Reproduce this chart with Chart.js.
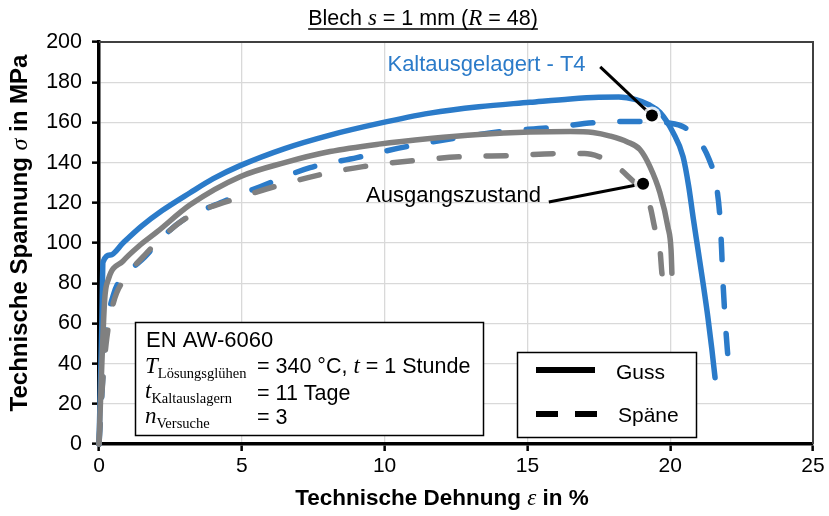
<!DOCTYPE html>
<html><head><meta charset="utf-8">
<script src="https://cdn.jsdelivr.net/npm/chart.js@4/dist/chart.umd.min.js"></script>
<style>html,body{margin:0;padding:0;background:#fff;}canvas{display:block;}</style>
</head><body>
<canvas id="c" width="829" height="516"></canvas>
<script>
// ---- data (strain in %, stress in MPa) ----
const t4GussX = [0, 0.05, 0.1, 0.14, 0.4, 0.84, 1.5, 2.2, 3.19, 4.0, 4.94, 6.5, 8.09, 9.8, 11.59, 13.3, 15.09, 16.5, 17.5, 18.2, 18.8, 19.25, 19.64, 20.1, 20.45, 20.65, 20.8, 20.97, 21.15, 21.32, 21.46, 21.57];
const t4GussY = [0, 30, 60, 90.5, 94, 100, 108.5, 116, 125, 132, 138.5, 147, 153.7, 159.5, 164.6, 167.8, 170, 171.7, 172.5, 172.6, 171.3, 168.8, 165, 155, 143, 128, 113, 97, 80, 63, 47, 33];

const t4SpaeneX = [0, 0.1, 0.2, 0.5, 1.0, 1.6, 2.3, 3.0, 4.34, 5.64, 7.39, 9.03, 10.78, 12.4, 14.04, 15.8, 17.44, 19.05, 19.9, 20.5, 21.0, 21.35, 21.6, 21.74, 21.8, 21.85, 21.92, 22.0, 22.1];
const t4SpaeneY = [0, 25, 50, 74, 85, 93, 104, 112, 120.5, 128, 137.5, 142.5, 148, 152, 155.4, 157.4, 160, 160.5, 159.8, 157.5, 151, 142, 130, 113, 97, 80, 63, 47, 32];

const ausGussX = [0, 0.1, 0.2, 0.32, 0.84, 1.4, 2.03, 3.19, 4.94, 6.5, 8.09, 9.8, 11.59, 13.3, 15.09, 16.5, 17.3, 17.9, 18.5, 18.94, 19.29, 19.64, 19.92, 20.03, 20.06];
const ausGussY = [0, 40, 72, 81.6, 91, 98.5, 105.5, 119, 133, 140, 145.5, 149.2, 152, 154, 155.2, 155.5, 155, 153.2, 150.3, 146.5, 138, 125, 108, 96.6, 85];

const ausSpaeneX = [0, 0.1, 0.25, 0.5, 1.0, 1.6, 2.3, 3.08, 5.0, 7.74, 9.24, 11.0, 12.75, 14.39, 16.14, 17.0, 17.5, 18.0, 18.5, 19.05, 19.3, 19.45, 19.64, 19.71, 19.82];
const ausSpaeneY = [0, 25, 50, 70, 84, 94, 104, 112.6, 123, 134, 138, 141, 143, 143.5, 144.5, 144.5, 143, 139.5, 133.5, 125, 118, 108, 97, 85, 75];

const xTicks = [0, 5, 10, 15, 20, 25];
const yTicks = [0, 20, 40, 60, 80, 100, 120, 140, 160, 180, 200];

// annotation anchors (data coordinates)
const t4LabelAt = [10.1, 185.5];
const t4LineFrom = [17.55, 187.6];
const t4Dot = [19.36, 163.4];
const ausLabelAt = [9.35, 120.4];
const ausLineFrom = [15.75, 120.4];
const ausDot = [19.05, 129.5];

const BLUE = '#2b7bc9';
const GRAY = '#808080';

function pts(xs, ys){ return xs.map((x,i)=>({x:x, y:ys[i]})); }

function runs(ctx, x, y, parts, align){
  let w = 0;
  parts.forEach(p=>{ ctx.font = p.f; w += ctx.measureText(p.t).width; });
  let cx = align === 'center' ? x - w/2 : x;
  parts.forEach(p=>{ ctx.font = p.f; ctx.fillText(p.t, cx, y + (p.dy||0)); cx += ctx.measureText(p.t).width; });
  return w;
}

const SANS = '"Liberation Sans", Arial, sans-serif';
const SERIF = '"Liberation Serif", "Times New Roman", serif';

const extras = {
  id: 'extras',
  afterDraw(chart){
    const ctx = chart.ctx, a = chart.chartArea;
    const xs = chart.scales.x, ys = chart.scales.y;
    const px = v => xs.getPixelForValue(v), py = v => ys.getPixelForValue(v);
    ctx.save();
    // top/right frame
    ctx.strokeStyle = '#404040'; ctx.lineWidth = 2;
    ctx.beginPath(); ctx.moveTo(a.left, a.top); ctx.lineTo(a.right, a.top); ctx.lineTo(a.right, a.bottom); ctx.stroke();
    ctx.fillStyle = '#000'; ctx.textBaseline = 'alphabetic';
    // title
    const tw = runs(ctx, 423, 25, [
      {t:'Blech ', f:'21.5px '+SANS}, {t:'s', f:'italic 23px '+SERIF}, {t:' = 1 mm (', f:'21.5px '+SANS},
      {t:'R', f:'italic 23px '+SERIF}, {t:' = 48)', f:'21.5px '+SANS}], 'center');
    ctx.lineWidth = 1.5; ctx.strokeStyle = '#000';
    ctx.beginPath(); ctx.moveTo(423 - tw/2, 29); ctx.lineTo(423 + tw/2, 29); ctx.stroke();
    // x axis title
    runs(ctx, 442, 505, [
      {t:'Technische Dehnung ', f:'bold 22.5px '+SANS}, {t:'ε', f:'italic 23px '+SERIF}, {t:' in %', f:'bold 22.5px '+SANS}], 'center');
    // y axis title
    ctx.save(); ctx.translate(27, 233); ctx.rotate(-Math.PI/2);
    runs(ctx, 0, 0, [
      {t:'Technische Spannung ', f:'bold 24px '+SANS}, {t:'σ', f:'italic 24px '+SERIF}, {t:' in MPa', f:'bold 24px '+SANS}], 'center');
    ctx.restore();
    // annotations
    ctx.lineWidth = 3; ctx.strokeStyle = '#000';
    ctx.beginPath(); ctx.moveTo(px(t4LineFrom[0]), py(t4LineFrom[1])); ctx.lineTo(px(t4Dot[0]), py(t4Dot[1])); ctx.stroke();
    ctx.beginPath(); ctx.moveTo(px(ausLineFrom[0]), py(ausLineFrom[1])); ctx.lineTo(px(ausDot[0]), py(ausDot[1])); ctx.stroke();
    [t4Dot, ausDot].forEach(d=>{
      ctx.fillStyle = 'rgba(255,255,255,0.85)'; ctx.beginPath(); ctx.arc(px(d[0]), py(d[1]), 9, 0, Math.PI*2); ctx.fill();
      ctx.fillStyle = '#000'; ctx.beginPath(); ctx.arc(px(d[0]), py(d[1]), 6, 0, Math.PI*2); ctx.fill();
    });
    ctx.fillStyle = BLUE; ctx.font = '22px '+SANS;
    ctx.fillText('Kaltausgelagert - T4', px(t4LabelAt[0]), py(t4LabelAt[1]));
    ctx.fillStyle = '#000';
    ctx.fillText('Ausgangszustand', px(ausLabelAt[0]), py(ausLabelAt[1]));
    // info box
    ctx.fillStyle = '#fff'; ctx.fillRect(135, 322, 348, 113);
    ctx.lineWidth = 1.5; ctx.strokeStyle = '#000'; ctx.strokeRect(135.5, 322.5, 348, 113);
    ctx.fillStyle = '#000';
    runs(ctx, 146, 347, [{t:'EN AW-6060', f:'22px '+SANS}]);
    runs(ctx, 145, 373, [{t:'T', f:'italic 23px '+SERIF}, {t:'Lösungsglühen', f:'14.5px '+SERIF, dy:5}]);
    runs(ctx, 257, 373, [{t:'= 340 °C, ', f:'21.5px '+SANS}, {t:'t', f:'italic 23px '+SERIF}, {t:' = 1 Stunde', f:'21.5px '+SANS}]);
    runs(ctx, 145, 398, [{t:'t', f:'italic 23px '+SERIF}, {t:'Kaltauslagern', f:'14.5px '+SERIF, dy:5}]);
    runs(ctx, 257, 400, [{t:'= 11 Tage', f:'21.5px '+SANS}]);
    runs(ctx, 145, 423, [{t:'n', f:'italic 23px '+SERIF}, {t:'Versuche', f:'14.5px '+SERIF, dy:5}]);
    runs(ctx, 257, 424, [{t:'= 3', f:'21.5px '+SANS}]);
    // legend box
    ctx.fillStyle = '#fff'; ctx.fillRect(517, 352, 179, 85);
    ctx.strokeRect(517.5, 352.5, 179, 85);
    ctx.strokeStyle = '#000'; ctx.lineWidth = 6; ctx.lineCap = 'butt';
    ctx.beginPath(); ctx.moveTo(536, 370); ctx.lineTo(595, 370); ctx.stroke();
    ctx.setLineDash([22, 17]);
    ctx.beginPath(); ctx.moveTo(536, 414); ctx.lineTo(597, 414); ctx.stroke();
    ctx.setLineDash([]);
    ctx.fillStyle = '#000';
    runs(ctx, 616, 379, [{t:'Guss', f:'21px '+SANS}]);
    runs(ctx, 618, 422, [{t:'Späne', f:'21px '+SANS}]);
    ctx.restore();
  }
};

const mk = (label, xs, ys, color, dashed) => ({
  label: label, data: pts(xs, ys), showLine: true, borderColor: color, backgroundColor: color,
  borderWidth: 5.5, pointRadius: 0, cubicInterpolationMode: 'monotone',
  borderDash: dashed ? [20, 27] : [], borderCapStyle: 'round', borderJoinStyle: 'round', clip: false
});

new Chart(document.getElementById('c'), {
  type: 'scatter',
  data: { datasets: [
    mk('Ausgangszustand Späne', ausSpaeneX, ausSpaeneY, GRAY, true),
    mk('Ausgangszustand Guss', ausGussX, ausGussY, GRAY, false),
    mk('Kaltausgelagert - T4 Späne', t4SpaeneX, t4SpaeneY, BLUE, true),
    mk('Kaltausgelagert - T4 Guss', t4GussX, t4GussY, BLUE, false)
  ]},
  options: {
    responsive: false, animation: false, devicePixelRatio: 1,
    layout: { padding: { top: 42, right: 16, left: 0, bottom: 0 } },
    plugins: { legend: { display: false }, tooltip: { enabled: false }, title: { display: false } },
    scales: {
      x: {
        type: 'linear', min: xTicks[0], max: xTicks[xTicks.length-1],
        afterFit: s => { s.height = 72; },
        afterBuildTicks: s => { s.ticks = xTicks.map(v => ({ value: v })); },
        ticks: { color: '#000', font: { family: SANS, size: 21 }, padding: 3, maxRotation: 0 },
        grid: { color: '#d9d9d9', lineWidth: 1.3, tickColor: '#000', tickLength: 7, tickWidth: 2.5 },
        border: { color: '#000', width: 3.5 }
      },
      y: {
        type: 'linear', min: yTicks[0], max: yTicks[yTicks.length-1],
        afterFit: s => { s.width = 99; },
        afterBuildTicks: s => { s.ticks = yTicks.map(v => ({ value: v })); },
        ticks: { color: '#000', font: { family: SANS, size: 21.5 }, padding: 10 },
        grid: { color: '#d9d9d9', lineWidth: 1.3, tickColor: '#000', tickLength: 7, tickWidth: 2.5 },
        border: { color: '#000', width: 3.5 }
      }
    }
  },
  plugins: [extras]
});
</script>
</body></html>
